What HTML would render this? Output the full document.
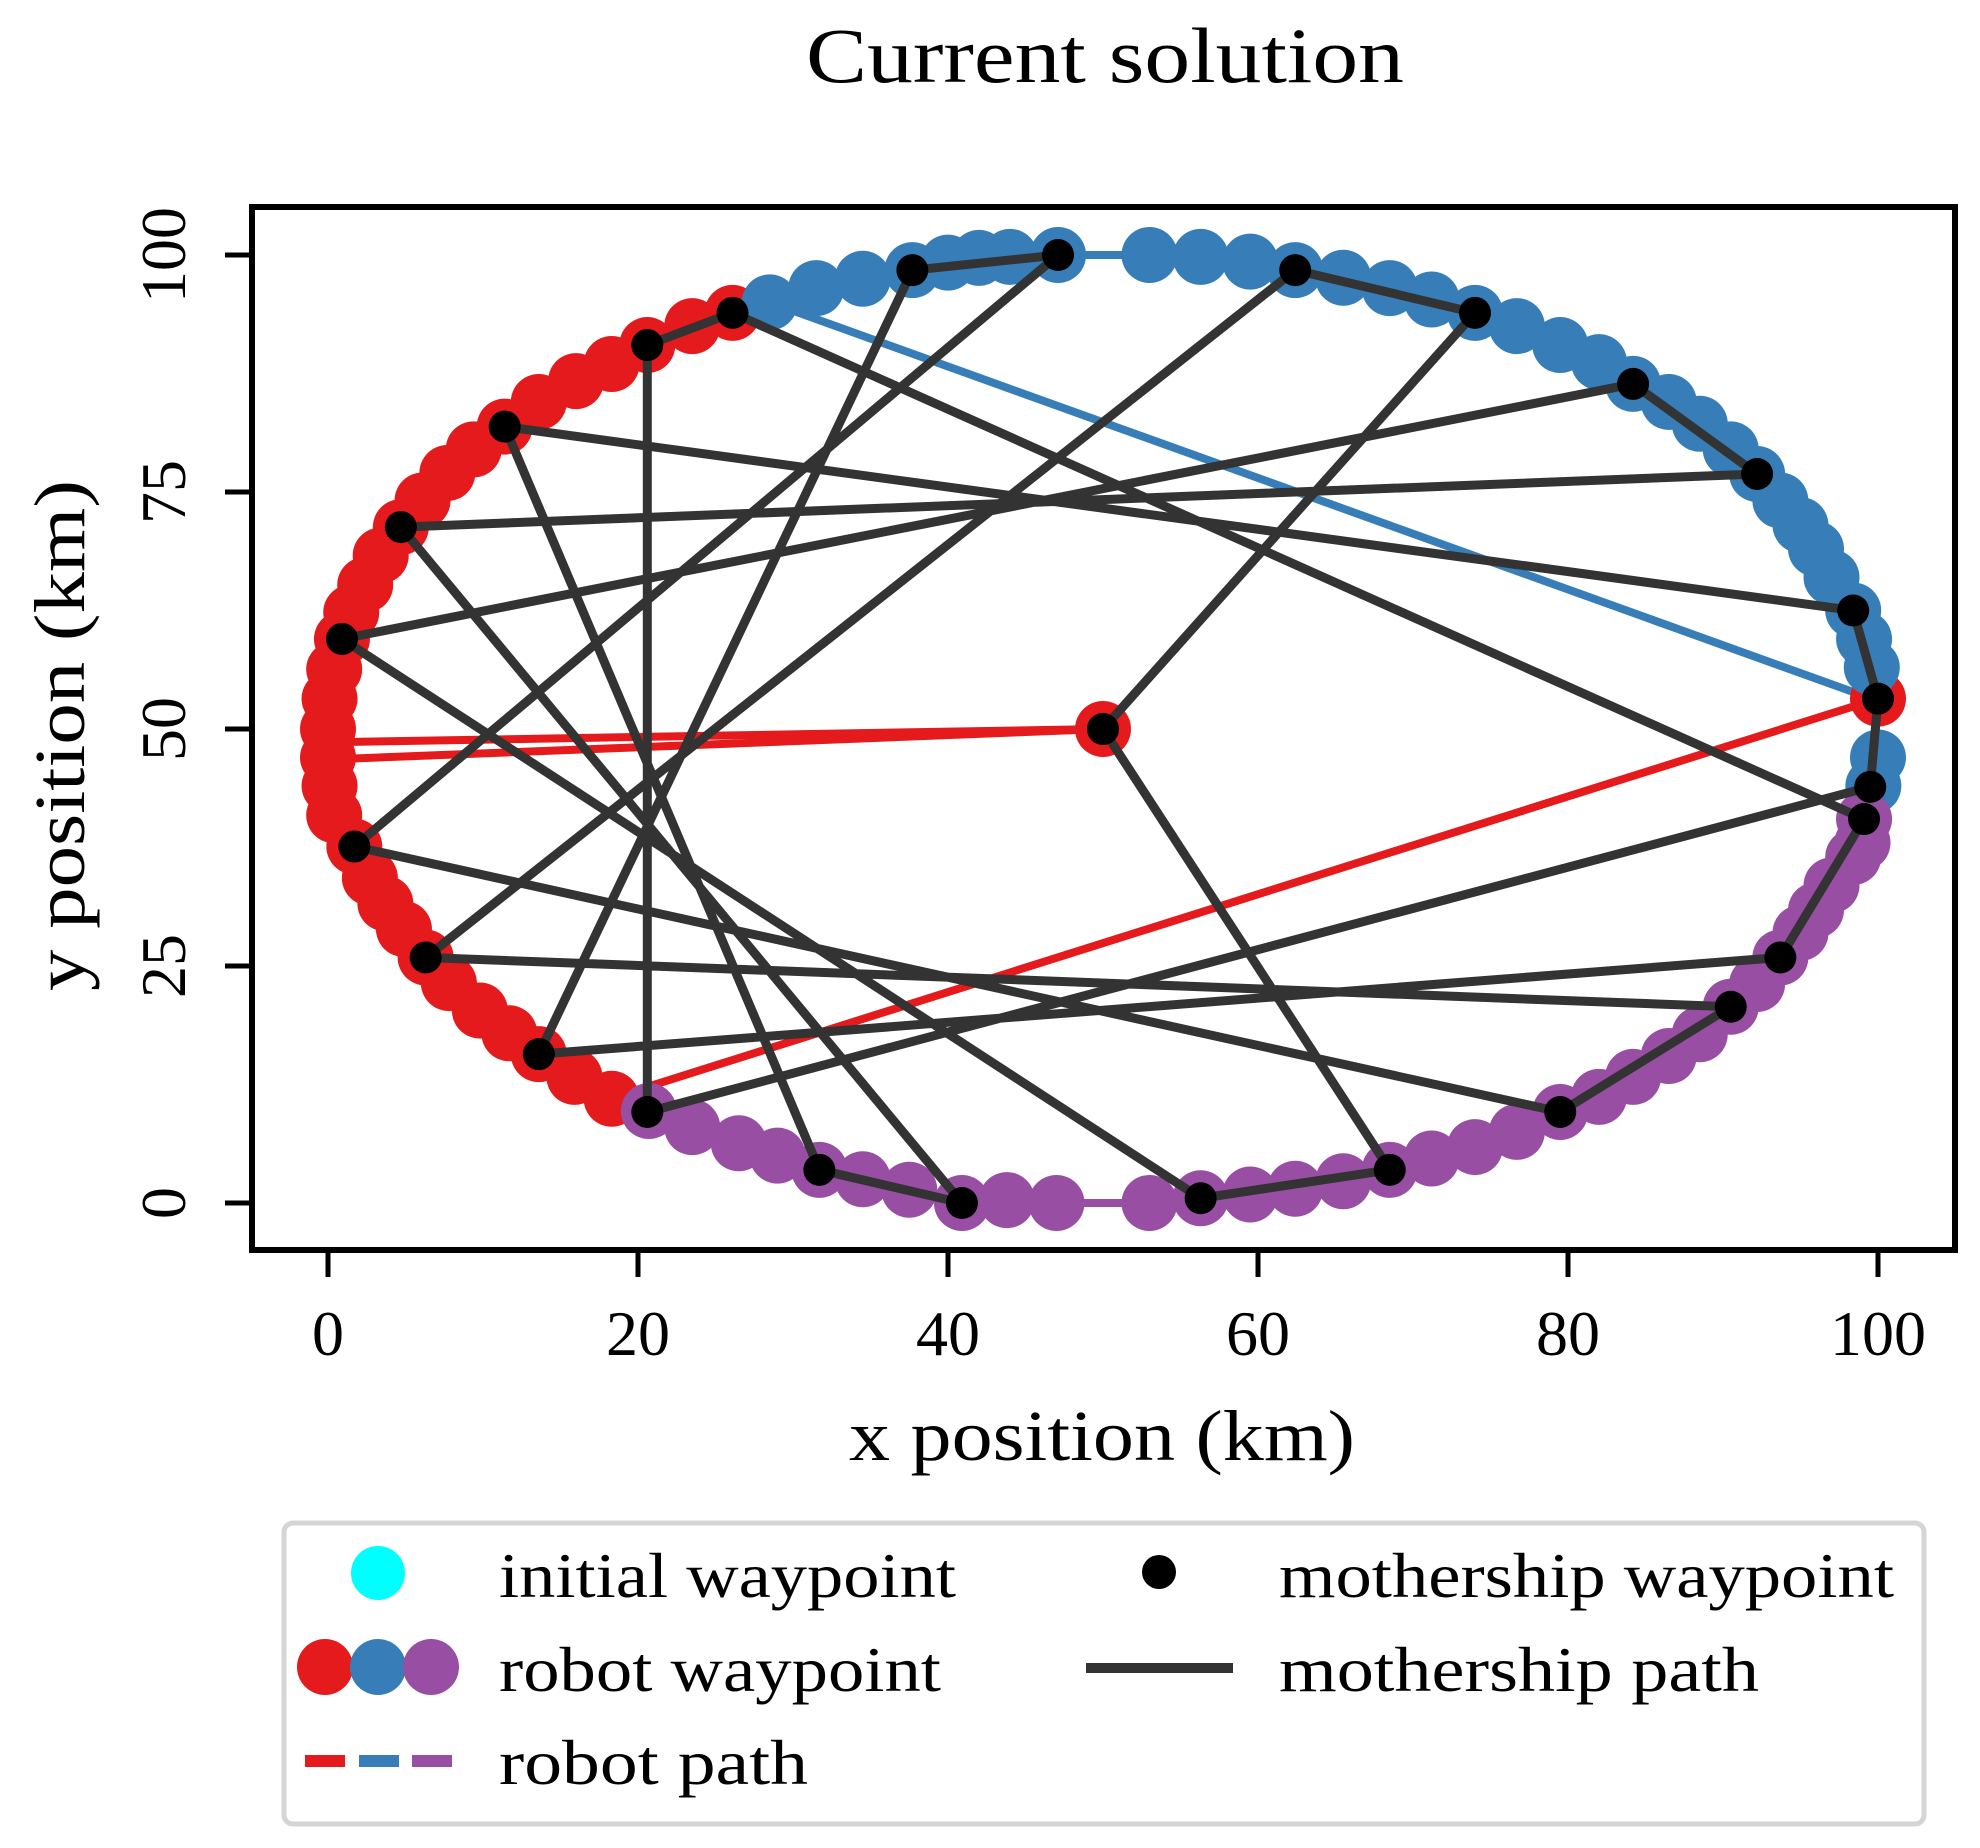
<!DOCTYPE html>
<html><head><meta charset="utf-8"><style>
html,body{margin:0;padding:0;background:#fff;}
svg{display:block;font-family:"Liberation Serif",serif;}
</style></head><body>
<svg id="chart" width="1980" height="1848" viewBox="0 0 1980 1848" xmlns="http://www.w3.org/2000/svg">
<text x="806" y="82" font-size="78" textLength="598" lengthAdjust="spacingAndGlyphs">Current solution</text>
<g id="plot"></g>
<rect x="252" y="207" width="1703" height="1043" fill="none" stroke="#000" stroke-width="6"/>
<g id="axes"></g>
<text x="849" y="1460" font-size="72" textLength="506" lengthAdjust="spacingAndGlyphs">x position (km)</text>
<text transform="translate(84,991) rotate(-90)" font-size="72" textLength="511" lengthAdjust="spacingAndGlyphs">y position (km)</text>
<g>
<rect x="284" y="1523" width="1640" height="301" rx="9" fill="#fff" stroke="#d5d5d5" stroke-width="5"/>
<circle cx="378" cy="1573" r="27" fill="#00ffff"/>
<text x="499" y="1597" font-size="64" textLength="457" lengthAdjust="spacingAndGlyphs">initial waypoint</text>
<circle cx="325" cy="1667" r="28" fill="#e41a1c"/>
<circle cx="378" cy="1667" r="28" fill="#377eb8"/>
<circle cx="431" cy="1667" r="28" fill="#984ea3"/>
<text x="499" y="1691" font-size="64" textLength="442" lengthAdjust="spacingAndGlyphs">robot waypoint</text>
<rect x="305" y="1755" width="40" height="12" fill="#e41a1c"/>
<rect x="359" y="1755" width="40" height="12" fill="#377eb8"/>
<rect x="412" y="1755" width="40" height="12" fill="#984ea3"/>
<text x="499" y="1784" font-size="64" textLength="309" lengthAdjust="spacingAndGlyphs">robot path</text>
<circle cx="1159" cy="1572" r="17" fill="#000"/>
<text x="1279" y="1597" font-size="64" textLength="615" lengthAdjust="spacingAndGlyphs">mothership waypoint</text>
<rect x="1086" y="1663" width="147" height="10" fill="#333"/>
<text x="1279" y="1691" font-size="64" textLength="480" lengthAdjust="spacingAndGlyphs">mothership path</text>
</g>
</svg>
<script>
const xTicks=[0,20,40,60,80,100];
const yTicks=[0,25,50,75,100];
const redX=[26.1,23.5,20.6,18.3,16,13.6,11.4,9.4,7.7,6.1,4.7,3.4,2.4,1.5,0.9,0.4,0.1,0,0,0.1,0.4,1.7,2.7,3.7,4.9,6.3,7.8,9.8,11.7,13.6,15.9,18.3];
const redY=[93.9,92.5,90.5,88.5,86.7,84.5,81.9,79.5,77,74.1,71.3,68.3,65.2,62.3,59.5,56.3,53.2,50,47,44,40.9,37.6,34.3,31.6,28.9,25.9,23.2,20.3,17.9,15.7,13.3,11];
const redExtraX=[100,50];
const redExtraY=[53.2,50];
const blueX=[28.5,31.5,34.5,37.7,40,42,44,47.1,53,56.3,59.5,62.4,65.5,68.5,71.2,74,76.7,79.5,82,84.2,86.5,88.5,90.5,92.2,93.7,95,96,97,98.4,99.1,99.6,100,99.7];
const blueY=[95,96.5,97.5,98.4,99.2,99.7,99.8,100,100,99.8,99.3,98.4,97.6,96.5,95.3,93.9,92.5,90.5,88.7,86.4,84.5,82.2,79.5,76.9,74.1,71.5,69,66,62.5,59.5,56.5,47,44];
const purpleX=[20.7,23.5,26.5,29,31.7,34.5,37.5,40.9,43.8,47,53,56.3,59.5,62.4,65.5,68.5,71.2,74,76.7,79.5,82,84.2,86.5,88.5,90.5,92.2,93.7,95,96,97,98.4,99,99.1];
const purpleY=[9.7,8,6.3,5,3.5,2.5,1.4,0,0.3,0,0,0.5,0.9,1.5,2.3,3.5,4.7,5.9,7.5,9.6,11.2,13.3,15.5,17.8,20.7,23.1,25.9,28.5,30.9,33.5,36.5,38,40.5];
const redLinesX1=[0.2,0.2,20.7];
const redLinesY1=[48.6,46.8,12.3];
const redLinesX2=[50,50,100];
const redLinesY2=[50,50,53.2];
const blueLinesX1=[28.5];
const blueLinesY1=[95];
const blueLinesX2=[98.4];
const blueLinesY2=[53.9];
const shipX=[50,74,62.4,6.3,90.5,79.5,1.7,47.1,37.7,13.6,93.7,99.1,26.1,20.6,20.6,99.5,100,98.4,11.4,31.7,40.9,4.7,92.2,84.2,0.9,56.3,68.5,50];
const shipY=[50,93.9,98.4,25.9,20.7,9.6,37.6,100,98.4,15.7,25.9,40.5,93.9,90.5,9.6,43.9,53.2,62.5,81.9,3.5,0,71.3,76.9,86.4,59.5,0.5,3.5,50];

const NS="http://www.w3.org/2000/svg";
const X=v=>328+v*15.5;
const Y=v=>1203-v*9.48;
const plot=document.getElementById('plot');
const axes=document.getElementById('axes');
function mk(tag,attrs,parent){const e=document.createElementNS(NS,tag);for(const k in attrs)e.setAttribute(k,attrs[k]);parent.appendChild(e);return e;}

xTicks.forEach(t=>{
  const l=mk('line',{x1:X(t),x2:X(t),y1:1250,y2:1277,stroke:'#000','stroke-width':5},axes);
  
  
  const tx=mk('text',{x:X(t),y:1355,'font-size':64,'text-anchor':'middle'},axes);
  tx.textContent=t;
  
  
});
yTicks.forEach(t=>{
  const l=mk('line',{x1:225,x2:252,y1:Y(t),y2:Y(t),stroke:'#000','stroke-width':5},axes);
  
  
  const tx=mk('text',{transform:`translate(185,${Y(t)}) rotate(-90)`,'font-size':64,'text-anchor':'middle'},axes);
  tx.textContent=t;
  
  
});

function poly(xs,ys,color,w,name){
  const p=mk('polyline',{points:xs.map((v,i)=>X(v)+','+Y(ys[i])).join(' '),fill:'none',stroke:color,'stroke-width':w,'stroke-linejoin':'round'},plot);
  
  
}
function segs(x1,y1,x2,y2,color,w,name){
  x1.forEach((v,i)=>{
    const l=mk('line',{x1:X(v),y1:Y(y1[i]),x2:X(x2[i]),y2:Y(y2[i]),stroke:color,'stroke-width':w},plot);
    
    
  });
}
function dots(xs,ys,color,r,name){
  xs.forEach((v,i)=>{
    const c=mk('circle',{cx:X(v),cy:Y(ys[i]),r:r,fill:color},plot);
    
    
  });
}
poly(redX,redY,'#e41a1c',8,'robot-path-red');
poly(blueX,blueY,'#377eb8',8,'robot-path-blue');
poly(purpleX,purpleY,'#984ea3',8,'robot-path-purple');
segs(redLinesX1,redLinesY1,redLinesX2,redLinesY2,'#e41a1c',8,'robot-path-red-segment');
segs(blueLinesX1,blueLinesY1,blueLinesX2,blueLinesY2,'#377eb8',8,'robot-path-blue-segment');
dots(redX,redY,'#e41a1c',28,'robot-waypoint-red');
dots(redExtraX,redExtraY,'#e41a1c',28,'robot-waypoint-red');
dots(blueX,blueY,'#377eb8',28,'robot-waypoint-blue');
dots(purpleX,purpleY,'#984ea3',28,'robot-waypoint-purple');
poly(shipX,shipY,'#333333',9,'mothership-path');
dots(shipX,shipY,'#000000',16,'mothership-waypoint');
</script>
</body></html>
